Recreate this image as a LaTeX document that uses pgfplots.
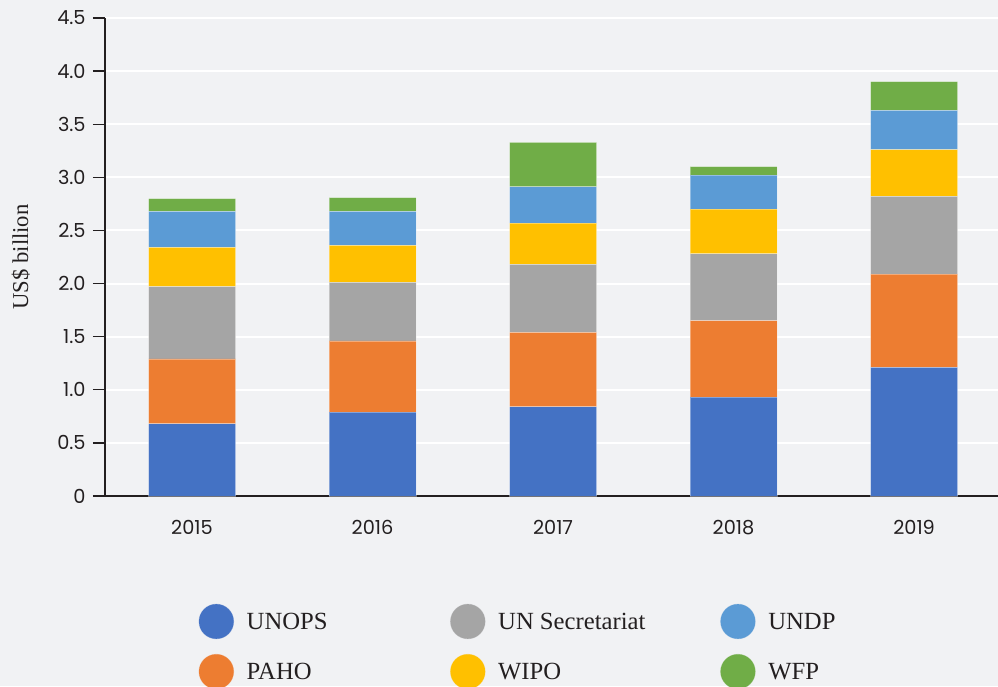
\documentclass[border=0pt]{standalone}
\usepackage{fontspec}
\setmainfont{Liberation Serif}
\newfontfamily\tickfont{Poppins}
\usepackage{pgfplots}
\pgfplotsset{compat=1.18}

\definecolor{bgcol}{HTML}{F1F2F4}
\definecolor{axiscol}{HTML}{231F20}
\definecolor{cunops}{HTML}{4472C4}
\definecolor{cpaho}{HTML}{ED7D31}
\definecolor{cunsec}{HTML}{A5A5A5}
\definecolor{cwipo}{HTML}{FFC000}
\definecolor{cundp}{HTML}{5B9BD5}
\definecolor{cwfp}{HTML}{70AD47}

\pgfplotsset{
  seg/.style={fill=#1, draw=white, draw opacity=0.35, line width=0.6pt,
    legend image code/.code={\fill[#1] (13pt,0.5pt) circle (13pt);}},
}

\begin{document}
\begin{tikzpicture}
\fill[bgcol] (-78.75pt,-142.5pt) rectangle (669.75pt,372pt);
\useasboundingbox (-78.75pt,-142.5pt) rectangle (669.75pt,372pt);
\begin{axis}[
  at={(0pt,0pt)}, anchor=south west,
  scale only axis, width=669.75pt, height=358.5pt,
  ybar stacked, bar width=65.25pt,
  xmin=-0.482, xmax=4.465, ymin=0, ymax=4.5,
  xtick={0,1,2,3,4}, xticklabels={2015,2016,2017,2018,2019},
  ytick={0,0.5,1,1.5,2,2.5,3,3.5,4,4.5},
  yticklabels={0,0.5,1.0,1.5,2.0,2.5,3.0,3.5,4.0,4.5},
  axis x line*=bottom, axis y line*=left,
  axis line style={line width=1pt, color=axiscol, -},
  tick align=outside, major tick length=9pt,
  ytick style={axiscol, line width=1pt},
  xtick style={draw=none},
  ticklabel style={font=\tickfont\fontsize{14.5}{17}\selectfont, text=axiscol},
  xticklabel style={yshift=-5.5pt},
  yticklabel style={xshift=-2pt},
  ymajorgrids, grid style={white, line width=1.5pt},
  ylabel={US\$ billion},
  ylabel style={font=\fontsize{17}{20}\selectfont, text=axiscol,
    at={(axis description cs:-0.0862,0.5)}, anchor=base, rotate=0},
  legend style={at={(axis description cs:0,0)}, anchor=north west,
    xshift=70pt, yshift=-80.6pt, draw=none, fill=none, inner sep=0pt,
    row sep=11pt, font=\fontsize{18.5}{21}\selectfont, text=axiscol,
    nodes={inner sep=0pt},
    /tikz/every odd column/.append style={column sep=9.5pt}},
  legend cell align=left, transpose legend, legend columns=2,
]
\addplot[seg=cunops] coordinates {(0,0.68) (1,0.79) (2,0.84) (3,0.93) (4,1.21)};
\addlegendentry{\makebox[152.5pt][l]{UNOPS}}
\addplot[seg=cpaho] coordinates {(0,0.61) (1,0.67) (2,0.70) (3,0.72) (4,0.88)};
\addlegendentry{\makebox[152.5pt][l]{PAHO}}
\addplot[seg=cunsec] coordinates {(0,0.68) (1,0.55) (2,0.64) (3,0.63) (4,0.73)};
\addlegendentry{\makebox[166.5pt][l]{UN Secretariat}}
\addplot[seg=cwipo] coordinates {(0,0.37) (1,0.35) (2,0.39) (3,0.42) (4,0.44)};
\addlegendentry{\makebox[166.5pt][l]{WIPO}}
\addplot[seg=cundp] coordinates {(0,0.34) (1,0.32) (2,0.34) (3,0.32) (4,0.37)};
\addlegendentry{UNDP}
\addplot[seg=cwfp] coordinates {(0,0.12) (1,0.13) (2,0.42) (3,0.08) (4,0.27)};
\addlegendentry{WFP}
\end{axis}
\end{tikzpicture}
\end{document}
